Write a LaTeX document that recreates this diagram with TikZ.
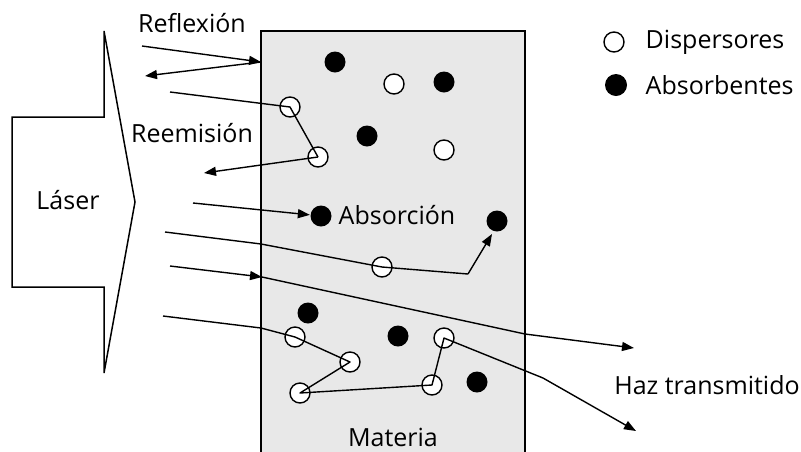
\documentclass[tikz,border=0pt]{standalone}
\usepackage{fontspec}
\setmainfont{Open Sans}
\usetikzlibrary{arrows.meta}
\definecolor{matfill}{HTML}{E8E8E8}
\begin{document}
\begin{tikzpicture}[x=1pt,y=-1pt,
  line width=1.4pt,
  scat/.style={circle,draw,fill=white,minimum size=20pt,inner sep=0pt,line width=1.4pt},
  absb/.style={circle,fill=black,minimum size=21pt,inner sep=0pt},
  lbl/.style={font=\fontsize{25}{28}\selectfont,inner sep=0pt},
  ray/.style={line width=1.4pt,line join=round},
  tip/.style={-{Triangle[length=12pt,width=9pt]}}
]
\useasboundingbox (0,0) rectangle (801,451);

% slab of matter
\fill[matfill] (261,31) rectangle (525,460);
\draw[line width=1.5pt] (261,460) -- (261,31) -- (525,31) -- (525,460);

% laser arrow
\draw[line width=1.5pt,line join=miter] (12,117) -- (104,117) -- (104,31) -- (135,202)
  -- (104,373) -- (104,287) -- (12,287) -- cycle;

% labels
\node[lbl] (tRefl) at (192,23) {Reflexión};
\node[lbl] (tReem) at (192,133) {Reemisión};
\node[lbl] (tLaser) at (68,200) {Láser};
\node[lbl] (tAbs) at (397,215) {Absorción};
\node[lbl] (tMat) at (393,437) {Materia};
\node[lbl] (tHaz) at (707,385) {Haz transmitido};
\node[lbl,anchor=west] (tDisp) at (645,42) {Dispersores};
\node[lbl,anchor=west] (tAbsb) at (645,85) {Absorbentes};

% legend markers
\node[scat] (lgS) at (614,42) {};
\node[absb,minimum size=22pt] (lgA) at (616,85) {};

% absorbers
\node[absb] (a1) at (335,62) {};
\node[absb] (a2) at (444,82) {};
\node[absb] (a3) at (367,136) {};
\node[absb] (a4) at (321,216) {};
\node[absb] (a5) at (497,221) {};
\node[absb] (a6) at (308,313) {};
\node[absb] (a7) at (398,336) {};
\node[absb] (a8) at (477,382) {};

% scatterers
\node[scat] (s1) at (394,84) {};
\node[scat] (s2) at (290,107) {};
\node[scat] (s3) at (318,157) {};
\node[scat] (s4) at (444,150) {};
\node[scat] (s5) at (382,267) {};
\node[scat] (s6) at (295,337) {};
\node[scat] (s7) at (444,338) {};
\node[scat] (s8) at (350,362) {};
\node[scat] (s9) at (432,385) {};
\node[scat] (s10) at (300,393) {};

% ray end points
\coordinate (rIn) at (142,46);
\coordinate (rHit) at (261,62);
\coordinate (rOut) at (145,76);
\coordinate (eIn) at (170,92);
\coordinate (eOut) at (204,173);
\coordinate (bIn) at (193,203);
\coordinate (cIn) at (165,232);
\coordinate (cHit) at (261,244);
\coordinate (cBend) at (468,274);
\coordinate (cEnd) at (492,234);
\coordinate (tIn) at (170,266);
\coordinate (tHit) at (262,277);
\coordinate (tExit) at (525,334);
\coordinate (tEnd) at (634,348);
\coordinate (mIn) at (163,316);
\coordinate (mHit) at (261,328);
\coordinate (mExit) at (543,378);
\coordinate (mEnd) at (636,431);

% reflection
\draw[ray,tip] (rIn) -- (rHit);
\draw[ray,tip] (rHit) -- (rOut);
% re-emission
\draw[ray] (eIn) -- (s2.center) -- (s3.center);
\draw[ray,tip] (s3.center) -- (eOut);
% absorption
\draw[ray,tip] (bIn) -- (a4);
% scattered then absorbed
\draw[ray] (cIn) -- (cHit) -- (s5.center) -- (cBend);
\draw[ray,tip] (cBend) -- (cEnd);
% transmitted
\draw[ray,tip] (tIn) -- (tHit);
\draw[ray,tip] (tHit) -- (tExit) -- (tEnd);
% multiple scattering, transmitted
\draw[ray] (mIn) -- (mHit) -- (s6.center) -- (s8.center) -- (s10.center)
  -- (s9.center) -- (s7.center) -- (mExit);
\draw[ray,tip] (mExit) -- (mEnd);
\end{tikzpicture}
\end{document}
